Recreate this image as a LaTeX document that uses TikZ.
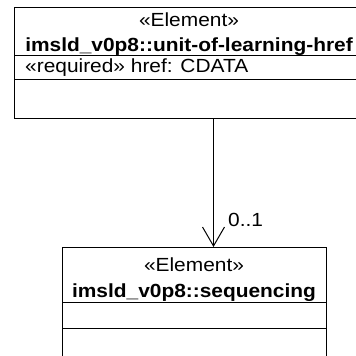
\documentclass[tikz,border=0pt]{standalone}
\usepackage{fontspec}
\setmainfont{Liberation Sans}[FakeStretch=1.1]
\usetikzlibrary{arrows.meta,calc}
\begin{document}
\begin{tikzpicture}[x=1pt,y=-1pt,
  txt/.style={inner sep=0pt, anchor=base, font=\fontsize{19}{21}\selectfont},
  bold/.style={txt, font=\fontsize{19}{21}\selectfont\bfseries},
  umlbox/.style={draw=black, line width=1pt, inner sep=0pt, anchor=north west},
  sep/.style={draw=black, line width=1pt},
  assoc/.style={draw=black, line width=1pt, -{Straight Barb[length=19pt,width=22pt,line width=1pt]}}]
\clip (0,0) rectangle (356,356);
% top element
\node[umlbox, minimum width=350pt, minimum height=111pt] (ulh) at (14,7) {};
\node[txt] (ulhst) at (189,27) {«Element»};
\node[bold] (ulhname) at (189,51) {imsld\_v0p8::unit-of-learning-href};
\node[txt, anchor=base west] (ulhattr) at (25,72.5) {«required» href: CDATA};
\draw[sep] (ulh.west |- 0,55) -- (ulh.east |- 0,55);
\draw[sep] (ulh.west |- 0,79) -- (ulh.east |- 0,79);
% bottom element
\node[umlbox, minimum width=264pt, minimum height=120pt] (seq) at (62,247) {};
\node[txt] (seqst) at (194,271.5) {«Element»};
\node[bold] (seqname) at (194,297.5) {imsld\_v0p8::sequencing};
\draw[sep] (seq.west |- 0,302) -- (seq.east |- 0,302);
\draw[sep] (seq.west |- 0,328) -- (seq.east |- 0,328);
% association
\draw[assoc] ($(ulh.south)+(24,0)$) -- ($(seq.north)+(19,0)$);
\node[txt, anchor=base west] (mult) at (228,226) {0..1};
\end{tikzpicture}
\end{document}
